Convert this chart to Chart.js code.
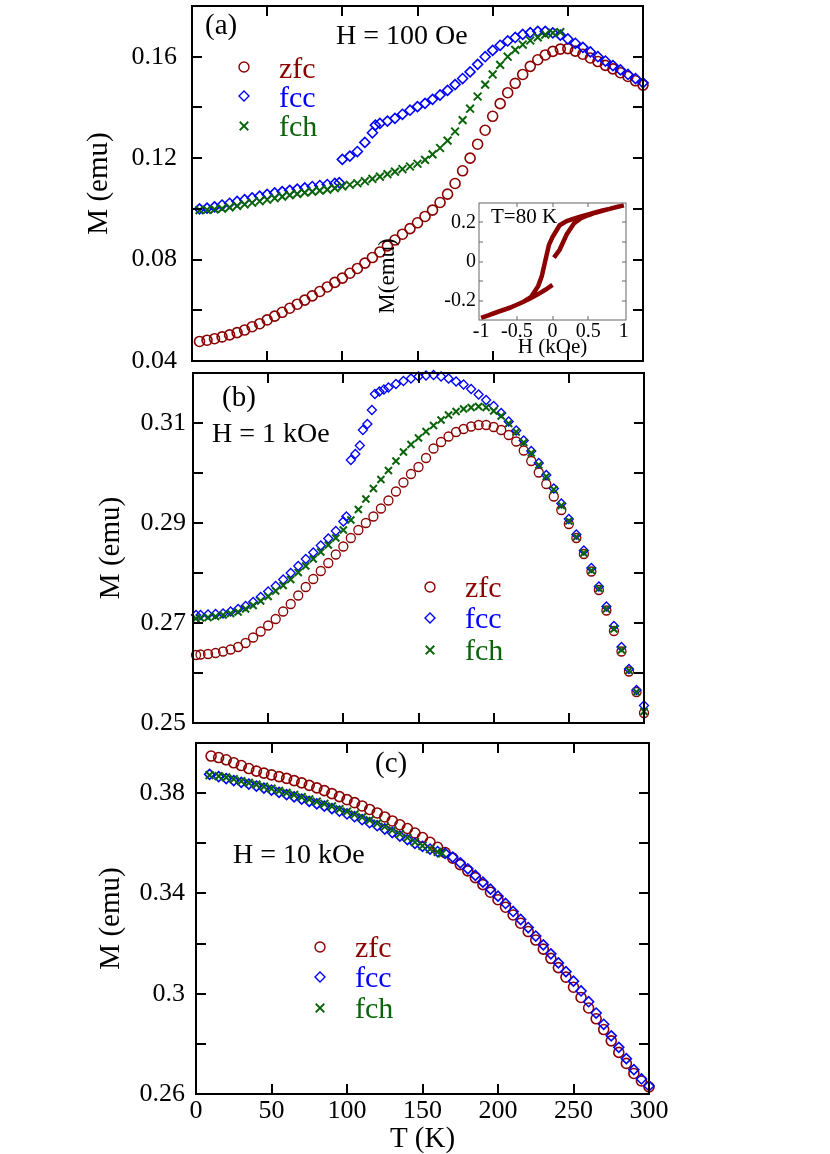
<!DOCTYPE html>
<html>
<head>
<meta charset="utf-8">
<script src="https://cdn.jsdelivr.net/npm/chart.js@4.4.0/dist/chart.umd.min.js"></script>
<style>
  html, body { margin: 0; padding: 0; background: #fff; }
  #page { position: relative; width: 830px; height: 1154px; overflow: hidden; }
  canvas { position: absolute; }
</style>
</head>
<body>
<div id="page">
  <canvas id="chartA" width="830" height="382" style="left:0;top:0"></canvas>
  <canvas id="chartB" width="830" height="380" style="left:0;top:366px"></canvas>
  <canvas id="chartC" width="830" height="422" style="left:0;top:732px"></canvas>
  <canvas id="inset" width="265" height="170" style="left:375px;top:195px"></canvas>
</div>
<script>
// panel (a), H = 100 Oe
const tA = [5,10,15,20,25,30,35,40,45,50,55,60,65,70,75,80,85,90,95,100,105,110,115,120,125,130,135,140,145,150,
  155,160,165,170,175,180,185,190,195,200,205,210,215,220,225,230,235,240,245,250,255,260,265,270,275,280,285,290,295,300];
const zfcA = [0.0477,0.0482,0.0488,0.0495,0.0503,0.0512,0.0522,0.0535,0.0547,0.0562,
  0.0577,0.0592,0.0608,0.0624,0.0640,0.0657,0.0674,0.0692,0.0710,0.0727,
  0.0746,0.0765,0.0786,0.0808,0.0830,0.0854,0.0877,0.0900,0.0922,0.0945,
  0.0970,0.0995,0.1025,0.1058,0.1100,0.1150,0.1200,0.1255,0.1310,0.1365,
  0.1415,0.1458,0.1495,0.1530,0.1562,0.1588,0.1607,0.1621,0.1630,0.1632,
  0.1622,0.1610,0.1595,0.1581,0.1566,0.1552,0.1537,0.1522,0.1505,0.1488];
const tFccA = [5,10,15,20,25,30,35,40,45,50,55,60,65,70,75,80,85,90,95,98,100,105,110,115,120,122,125,130,
  135,140,145,150,155,160,165,170,175,180,185,190,195,200,205,210,215,220,225,230,235,240,245,250,255,260,265,270,275,280,285,290,295,300];
const fccA = [0.1000,0.1003,0.1008,0.1015,0.1022,0.1029,0.1036,0.1043,0.1050,0.1057,
  0.1063,0.1068,0.1073,0.1078,0.1083,0.1088,0.1092,0.1096,0.1100,0.1103,
  0.1195,0.1208,0.1226,0.1262,0.1300,0.1330,0.1337,0.1346,
  0.1357,0.1373,0.1389,0.1403,0.1416,0.1432,0.1449,0.1467,0.1490,0.1514,
  0.1540,0.1570,0.1600,0.1625,0.1645,0.1662,0.1676,0.1688,0.1695,0.1700,
  0.1700,0.1694,0.1685,0.1670,0.1653,0.1637,0.1619,0.1600,0.1583,0.1565,
  0.1548,0.1530,0.1514,0.1497];
const fchA = [0.0995,0.0996,0.0998,0.1001,0.1006,0.1012,0.1018,0.1024,0.1030,0.1036,
  0.1042,0.1048,0.1054,0.1059,0.1064,0.1068,0.1072,0.1076,0.1082,0.1089,
  0.1095,0.1101,0.1109,0.1118,0.1127,0.1137,0.1147,0.1157,0.1167,0.1178,
  0.1193,0.1215,0.1240,0.1269,0.1305,0.1350,0.1395,0.1443,0.1490,0.1530,
  0.1568,0.1600,0.1627,0.1648,0.1664,0.1676,0.1687,0.1694,0.1697];

// panel (b), H = 1 kOe
const tB = [2,5,10,15,20,25,30,35,40,45,50,55,60,65,70,75,80,85,90,95,100,105,110,115,120,125,130,135,140,145,150,
  155,160,165,170,175,180,185,190,195,200,205,210,215,220,225,230,235,240,245,250,255,260,265,270,275,280,285,290,295,300];
const zfcB = [0.2636,0.2637,0.2638,0.2640,0.2643,0.2647,0.2652,0.2660,0.2671,0.2683,0.2695,
  0.2708,0.2723,0.2738,0.2755,0.2772,0.2788,0.2804,0.2820,0.2837,0.2853,
  0.2870,0.2886,0.2900,0.2913,0.2929,0.2945,0.2963,0.2981,0.2998,0.3012,
  0.3030,0.3049,0.3062,0.3073,0.3082,0.3088,0.3093,0.3096,0.3096,0.3092,
  0.3086,0.3076,0.3063,0.3045,0.3024,0.3001,0.2978,0.2953,0.2926,0.2898,
  0.2870,0.2838,0.2803,0.2766,0.2725,0.2684,0.2643,0.2603,0.2562,0.2520];
const tFccB = [2,5,10,15,20,25,30,35,40,45,50,55,60,65,70,75,80,85,90,95,100,
  102,105,108,111,113,116,119,121,124,127,
  130,135,140,145,150,155,160,165,170,175,180,185,190,195,200,205,210,215,220,225,230,235,240,245,250,255,260,265,270,275,280,285,290,295,300];
const fccB = [0.2716,0.2716,0.2717,0.2718,0.2719,0.2723,0.2728,0.2734,0.2742,0.2752,0.2763,
  0.2774,0.2787,0.2800,0.2814,0.2828,0.2841,0.2855,0.2869,0.2884,0.2903,
  0.2913,0.3026,0.3038,0.3055,0.3086,0.3098,0.3126,0.3158,0.3163,0.3167,
  0.3171,0.3178,0.3184,0.3189,0.3193,0.3195,0.3196,0.3193,0.3189,0.3183,
  0.3177,0.3168,0.3157,0.3146,0.3134,0.3120,0.3103,0.3085,0.3065,0.3044,
  0.3020,0.2996,0.2969,0.2939,0.2908,0.2877,0.2845,0.2810,0.2773,0.2733,
  0.2694,0.2652,0.2608,0.2566,0.2535];
const fchB = [0.2709,0.2710,0.2711,0.2713,0.2716,0.2719,0.2722,0.2728,0.2735,0.2744,0.2753,
  0.2764,0.2775,0.2787,0.2801,0.2814,0.2828,0.2842,0.2856,0.2870,0.2886,
  0.2906,0.2927,0.2948,0.2969,0.2987,0.3005,0.3024,0.3042,0.3057,0.3070,
  0.3083,0.3095,0.3106,0.3116,0.3123,0.3128,0.3131,0.3133,0.3131,0.3124,
  0.3114,0.3099,0.3082,0.3061,0.3040,0.3016,0.2993,0.2967,0.2935,0.2904,
  0.2872,0.2840,0.2805,0.2769,0.2728,0.2688,0.2646,0.2605,0.2562,0.2523];

// panel (c), H = 10 kOe
const tZfcC = [10,15,20,25,30,35,40,45,50,55,60,65,70,75,80,85,90,95,100,105,110,115,120,125,130,135,140,145,150,
  155,160,165,170,175,180,185,190,195,200,205,210,215,220,225,230,235,240,245,250,255,260,265,270,275,280,285,290,295,300];
const zfcC = [0.3948,0.3942,0.3933,0.3921,0.3910,0.3898,0.3888,0.3880,0.3873,
  0.3866,0.3859,0.3850,0.3841,0.3831,0.3821,0.3810,0.3798,0.3786,0.3774,
  0.3762,0.3749,0.3735,0.3721,0.3705,0.3689,0.3674,0.3659,0.3641,0.3623,
  0.3604,0.3584,0.3563,0.3541,0.3515,0.3490,0.3463,0.3435,0.3405,0.3375,
  0.3345,0.3314,0.3281,0.3248,0.3214,0.3178,0.3141,0.3104,0.3066,0.3026,
  0.2985,0.2943,0.2900,0.2857,0.2812,0.2766,0.2722,0.2682,0.2652,0.2628];
const tFccC = [9,15,20,25,30,35,40,45,50,55,60,65,70,75,80,85,90,95,100,105,110,115,120,125,130,135,140,145,150,
  155,160,165,170,175,180,185,190,195,200,205,210,215,220,225,230,235,240,245,250,255,260,265,270,275,280,285,290,295,300];
const fccC = [0.3875,0.3866,0.3858,0.3850,0.3843,0.3836,0.3828,0.3820,0.3812,
  0.3803,0.3794,0.3785,0.3776,0.3767,0.3757,0.3748,0.3738,0.3728,0.3717,
  0.3706,0.3694,0.3682,0.3670,0.3657,0.3643,0.3629,0.3615,0.3600,0.3588,
  0.3577,0.3567,0.3560,0.3545,0.3522,0.3498,0.3472,0.3445,0.3417,0.3389,
  0.3360,0.3328,0.3296,0.3264,0.3230,0.3195,0.3159,0.3123,0.3088,0.3050,
  0.3011,0.2968,0.2923,0.2878,0.2832,0.2786,0.2741,0.2697,0.2660,0.2632];
const tFchC = [9,15,20,25,30,35,40,45,50,55,60,65,70,75,80,85,90,95,100,105,110,115,120,125,130,135,140,145,150,155,160,163];
const fchC = [0.3872,0.3868,0.3863,0.3856,0.3848,0.3841,0.3834,0.3826,0.3818,
  0.3809,0.3801,0.3793,0.3784,0.3775,0.3766,0.3757,0.3747,0.3736,0.3726,
  0.3715,0.3704,0.3692,0.3679,0.3666,0.3652,0.3637,0.3622,0.3605,0.3590,
  0.3577,0.3566,0.3560];

// inset: M(H) loop at T = 80 K
const loopH = [0.02,0.1,0.2,0.3,0.4,0.5,0.6,0.7,0.8,0.9,1.0,
  0.9,0.8,0.7,0.6,0.5,0.4,0.3,0.2,0.1,0.0,
  -0.05,-0.1,-0.15,-0.2,-0.3,-0.4,-0.5,-0.6,-0.7,-0.8,-0.9,-1.0,
  -0.9,-0.8,-0.7,-0.6,-0.5,-0.4,-0.3,-0.2,-0.1,0.0];
const loopM = [0.02,0.06,0.14,0.195,0.222,0.237,0.25,0.26,0.27,0.279,0.288,
  0.28,0.27,0.262,0.252,0.241,0.231,0.22,0.207,0.186,0.125,
  0.085,0.005,-0.075,-0.125,-0.182,-0.205,-0.222,-0.238,-0.25,-0.263,-0.276,-0.289,
  -0.276,-0.262,-0.25,-0.237,-0.222,-0.205,-0.187,-0.167,-0.145,-0.12];

// axis ticks
const xTickVals = [0,50,100,150,200,250,300];
const xTickLabels = ['0','50','100','150','200','250','300'];
const xTickMarks = [50,100,150,200,250];
const yValsA = [0.04,0.08,0.12,0.16], yLabelsA = ['0.04','0.08','0.12','0.16'];
const yMarksA = [0.06,0.08,0.10,0.12,0.14,0.16];
const yValsB = [0.25,0.27,0.29,0.31], yLabelsB = ['0.25','0.27','0.29','0.31'];
const yMarksB = [0.26,0.27,0.28,0.29,0.30,0.31];
const yValsC = [0.26,0.30,0.34,0.38], yLabelsC = ['0.26','0.3','0.34','0.38'];
const yMarksC = [0.28,0.30,0.32,0.34,0.36,0.38];
const insetXVals = [-1,-0.5,0,0.5,1], insetXLabels = ['-1','-0.5','0','0.5','1'];
const insetYVals = [-0.2,0,0.2], insetYLabels = ['-0.2','0','0.2'];
const insetYMarks = [-0.2,-0.1,0,0.1,0.2];

const SERIF = "'Liberation Serif', 'Times New Roman', serif";
const RED = '#8b0000', BLUE = '#0000ff', GREEN = '#0a640a';
Chart.defaults.font.family = SERIF;
Chart.defaults.color = '#000';

function pts(ts, vs) {
    return vs.map((v, i) => ({ x: ts[i], y: v }));
}

function series(ts, vs, style, color, order, big) {
    const cross = style === 'crossRot';
    return {
        data: pts(ts, vs),
        showLine: false,
        pointStyle: style,
        pointRadius: cross ? (big ? 5.5 : 5) : (big ? 5 : 4.5),
        pointBorderWidth: cross ? 2 : (big ? 1.6 : 1.3),
        pointBorderColor: color,
        borderColor: color,
        pointBackgroundColor: 'rgba(0,0,0,0)',
        backgroundColor: 'rgba(0,0,0,0)',
        order: order,
        clip: false
    };
}

// keep the plot area exactly where the layout puts it
function noPad(s) {
    s.paddingTop = 0; s.paddingBottom = 0; s.paddingLeft = 0; s.paddingRight = 0;
}

function drawMarker(ctx, style, x, y, r) {
    ctx.beginPath();
    if (style === 'circle') {
        ctx.arc(x, y, r, 0, Math.PI * 2);
    } else if (style === 'rectRot') {
        ctx.moveTo(x, y - r); ctx.lineTo(x + r, y); ctx.lineTo(x, y + r); ctx.lineTo(x - r, y); ctx.closePath();
    } else {
        const d = r * 0.7071;
        ctx.moveTo(x - d, y - d); ctx.lineTo(x + d, y + d);
        ctx.moveTo(x + d, y - d); ctx.lineTo(x - d, y + d);
    }
    ctx.stroke();
}

// frame, inward ticks, panel texts and legend
function decor(cfg) {
    return {
        id: 'decor',
        afterDatasetsDraw(chart) {
            const ctx = chart.ctx;
            const { left, right, top, bottom } = chart.chartArea;
            const xs = chart.scales.x, ys = chart.scales.y;
            ctx.save();
            ctx.strokeStyle = cfg.color;
            ctx.lineWidth = cfg.lineWidth;
            ctx.beginPath();
            cfg.xMarks.forEach(v => {
                const px = Math.round(xs.getPixelForValue(v));
                ctx.moveTo(px, bottom); ctx.lineTo(px, bottom - cfg.len);
                ctx.moveTo(px, top); ctx.lineTo(px, top + cfg.len);
            });
            cfg.yMarks.forEach(v => {
                const py = Math.round(ys.getPixelForValue(v));
                ctx.moveTo(left, py); ctx.lineTo(left + cfg.len, py);
                ctx.moveTo(right, py); ctx.lineTo(right - cfg.len, py);
            });
            ctx.stroke();
            ctx.strokeRect(left, top, right - left, bottom - top);
            (cfg.texts || []).forEach(t => {
                ctx.save();
                ctx.font = t.size + 'px ' + SERIF;
                ctx.fillStyle = '#000';
                ctx.translate(t.x, t.y);
                if (t.rot) {
                    ctx.rotate(-Math.PI / 2);
                    ctx.textAlign = 'center';
                    ctx.textBaseline = 'middle';
                } else {
                    ctx.textAlign = 'left';
                    ctx.textBaseline = 'alphabetic';
                }
                ctx.fillText(t.text, 0, 0);
                ctx.restore();
            });
            if (cfg.legend) {
                const lg = cfg.legend;
                ctx.textAlign = 'left';
                ctx.textBaseline = 'alphabetic';
                lg.rows.forEach(r => {
                    ctx.strokeStyle = r.color;
                    ctx.lineWidth = r.style === 'crossRot' ? 1.8 : 1.4;
                    drawMarker(ctx, r.style, lg.mx, r.my, r.style === 'crossRot' ? 6 : 5);
                    ctx.font = lg.size + 'px ' + SERIF;
                    ctx.fillStyle = r.color;
                    ctx.fillText(r.text, lg.tx, r.ty);
                });
            }
            ctx.restore();
        }
    };
}

function legendRows(ys, tys) {
    return [
        { text: 'zfc', style: 'circle', color: RED, my: ys[0], ty: tys[0] },
        { text: 'fcc', style: 'rectRot', color: BLUE, my: ys[1], ty: tys[1] },
        { text: 'fch', style: 'crossRot', color: GREEN, my: ys[2], ty: tys[2] }
    ];
}

function panel(id, p) {
    new Chart(document.getElementById(id), {
        type: 'scatter',
        data: {
            datasets: [
                series(p.zfc[0], p.zfc[1], 'circle', RED, 3, p.big),
                series(p.fcc[0], p.fcc[1], 'rectRot', BLUE, 2, p.big),
                series(p.fch[0], p.fch[1], 'crossRot', GREEN, 1, p.big)
            ]
        },
        options: {
            responsive: false,
            animation: false,
            events: [],
            layout: { autoPadding: false, padding: { left: 0, top: p.top, right: 830 - p.right, bottom: 0 } },
            plugins: { legend: { display: false }, tooltip: { enabled: false } },
            scales: {
                x: {
                    type: 'linear', min: 0, max: 300,
                    grid: { display: false, drawTicks: false },
                    border: { display: false },
                    afterBuildTicks: s => { s.ticks = xTickVals.map(v => ({ value: v })); },
                    afterFit: s => { s.height = p.xHeight; noPad(s); },
                    ticks: {
                        display: p.showX, autoSkip: false, maxRotation: 0, padding: 2,
                        font: { size: 26 }, callback: (v, i) => xTickLabels[i]
                    },
                    title: { display: p.showX, text: 'T (K)', font: { size: 29, lineHeight: 1 }, padding: 0 }
                },
                y: {
                    type: 'linear', min: p.yMin, max: p.yMax,
                    grid: { display: false, drawTicks: false },
                    border: { display: false },
                    afterBuildTicks: s => { s.ticks = p.yVals.map(v => ({ value: v })); },
                    afterFit: s => { s.width = p.left; noPad(s); },
                    ticks: {
                        autoSkip: false, padding: p.yPad,
                        font: { size: 26 }, callback: (v, i) => p.yLabels[i]
                    },
                    title: { display: true, text: 'M (emu)', font: { size: 29 }, padding: { top: p.titlePad, bottom: 0 } }
                }
            }
        },
        plugins: [decor({
            color: '#000', lineWidth: 2, len: 10,
            xMarks: xTickMarks, yMarks: p.yMarks,
            texts: p.texts, legend: p.legend
        })]
    });
}

panel('chartA', {
    zfc: [tA, zfcA], fcc: [tFccA, fccA], fch: [tA, fchA], big: true,
    left: 192, right: 643, top: 6, xHeight: 21, showX: false,
    yMin: 0.04, yMax: 0.18, yVals: yValsA, yLabels: yLabelsA, yMarks: yMarksA, yPad: 15, titlePad: 82,
    texts: [{ text: '(a)', x: 205, y: 34, size: 29 }, { text: 'H = 100 Oe', x: 336, y: 44, size: 28 }],
    legend: { mx: 244, tx: 279, size: 30, rows: legendRows([67, 96, 126], [78, 107, 136]) }
});

panel('chartB', {
    zfc: [tB, zfcB], fcc: [tFccB, fccB], fch: [tB, fchB], big: false,
    left: 193, right: 644, top: 7, xHeight: 23, showX: false,
    yMin: 0.25, yMax: 0.32, yVals: yValsB, yLabels: yLabelsB, yMarks: yMarksB, yPad: 7, titlePad: 94,
    texts: [{ text: '(b)', x: 222, y: 40, size: 29 }, { text: 'H = 1 kOe', x: 212, y: 76, size: 28 }],
    legend: { mx: 430, tx: 465, size: 30, rows: legendRows([221, 252, 284], [231, 262, 294]) }
});

panel('chartC', {
    zfc: [tZfcC, zfcC], fcc: [tFccC, fccC], fch: [tFchC, fchC], big: true,
    left: 196, right: 649, top: 11, xHeight: 60, showX: true,
    yMin: 0.26, yMax: 0.40, yVals: yValsC, yLabels: yLabelsC, yMarks: yMarksC, yPad: 11, titlePad: 94,
    texts: [{ text: '(c)', x: 375, y: 40, size: 29 }, { text: 'H = 10 kOe', x: 233, y: 131, size: 28 }],
    legend: { mx: 320, tx: 355, size: 30, rows: legendRows([215, 245, 276], [225, 255, 286]) }
});

// inset hysteresis loop
new Chart(document.getElementById('inset'), {
    type: 'scatter',
    data: {
        datasets: [{
            data: pts(loopH, loopM),
            showLine: true, borderColor: RED, borderWidth: 4.5,
            pointRadius: 0, tension: 0, clip: false
        }]
    },
    options: {
        responsive: false,
        animation: false,
        events: [],
        layout: { autoPadding: false, padding: { left: 0, top: 8, right: 14, bottom: 0 } },
        plugins: { legend: { display: false }, tooltip: { enabled: false } },
        scales: {
            x: {
                type: 'linear', min: -1.03, max: 1.03,
                grid: { display: false, drawTicks: false },
                border: { display: false },
                afterBuildTicks: s => { s.ticks = insetXVals.map(v => ({ value: v })); },
                afterFit: s => { s.height = 45; noPad(s); },
                ticks: { autoSkip: false, maxRotation: 0, padding: 0, font: { size: 20 }, callback: (v, i) => insetXLabels[i] },
                title: { display: true, text: 'H (kOe)', font: { size: 21, lineHeight: 1 }, padding: { top: 0, bottom: 7 } }
            },
            y: {
                type: 'linear', min: -0.3, max: 0.3,
                grid: { display: false, drawTicks: false },
                border: { display: false },
                afterBuildTicks: s => { s.ticks = insetYVals.map(v => ({ value: v })); },
                afterFit: s => { s.width = 104; noPad(s); },
                ticks: { autoSkip: false, padding: 3, font: { size: 20 }, callback: (v, i) => insetYLabels[i] },
                title: { display: false }
            }
        }
    },
    plugins: [decor({
        color: '#666', lineWidth: 1, len: 4,
        xMarks: [-0.5, 0, 0.5], yMarks: insetYMarks,
        texts: [
            { text: 'T=80 K', x: 116, y: 28, size: 21 },
            { text: 'M(emu)', x: 13, y: 81, size: 23, rot: true }
        ]
    })]
});
</script>
</body>
</html>
